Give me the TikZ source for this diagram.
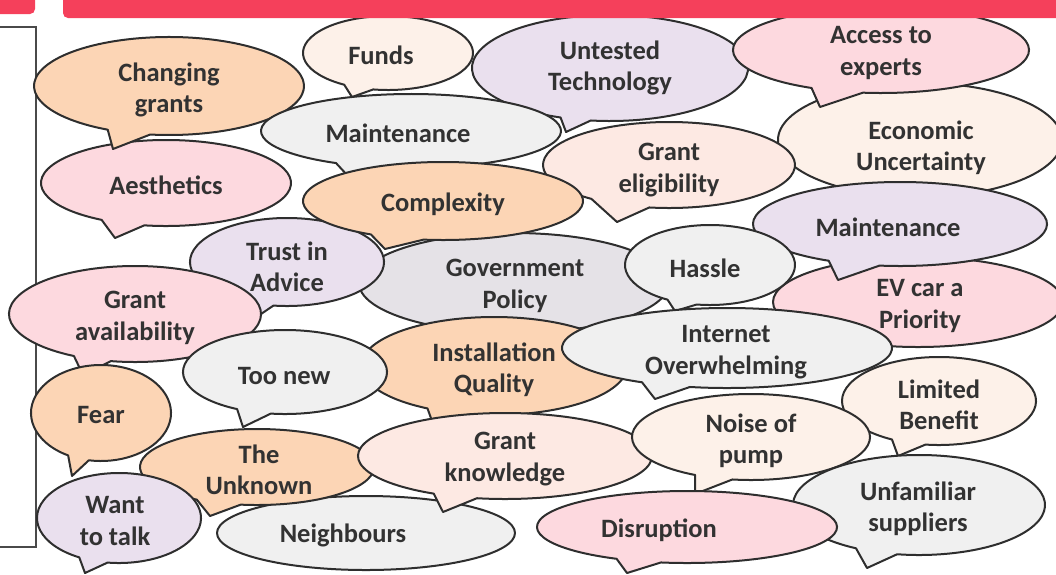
\documentclass[tikz,border=0pt]{standalone}
\usepackage{fontspec}
\setmainfont{Carlito}
\usetikzlibrary{calc}

\definecolor{bubPeach}{HTML}{FCD5B5}
\definecolor{bubPink}{HTML}{FDD9DF}
\definecolor{bubGrey}{HTML}{F0F0F0}
\definecolor{bubLav}{HTML}{EAE0EE}
\definecolor{bubCream}{HTML}{FDF1E9}
\definecolor{bubSalmon}{HTML}{FDE9E3}
\definecolor{bubGov}{HTML}{E5E2E7}
\definecolor{ink}{HTML}{323232}
\definecolor{rim}{HTML}{2E2E2E}
\definecolor{banner}{HTML}{F5405B}
\definecolor{frame}{HTML}{4A4A4A}

\tikzset{
  bubble/.style={draw=rim, line width=2pt, line join=round},
  txt/.style={font=\bfseries\fontsize{26.5}{31.5}\selectfont, text=ink,
              align=center, inner sep=0pt, yshift=-2pt},
}

% speech bubble: #1 fill, #2 centre, #3 x radius, #4 y radius,
% #5/#6 angles bounding the tail base, #7 tail tip
\newcommand\speech[7]{%
  \draw[bubble, fill=#1] ($(#2)+(#6:#3 and #4)$)
    arc[start angle=#6, end angle=#5+360, x radius=#3, y radius=#4]
    -- (#7) -- cycle;}
% plain bubble without a visible tail
\newcommand\plainbubble[4]{%
  \draw[bubble, fill=#1] (#2) ellipse[x radius=#3, y radius=#4];}

\begin{document}
\begin{tikzpicture}[x=1pt, y=-1pt]
\useasboundingbox (0,0) rectangle (1056,574);
\clip (0,0) rectangle (1056,574);

% side frame
\draw[frame, line width=1.3pt] (0,27) -- (36,27) -- (36,547) -- (0,547);

% back layer
\speech{bubCream}{388,53}{85}{37}{100}{121}{352,97}
\node[txt] (funds) at (381,53) {Funds};

\speech{bubLav}{610,68}{138}{53}{98}{111}{566,132}
\node[txt] (untested) at (610,66) {Untested\\Technology};

\plainbubble{bubCream}{920,140}{142}{57}
\node[txt] (economic) at (921,146) {Economic\\Uncertainty};

\speech{bubPink}{881,50}{148}{43}{97}{118}{820,107}
\node[txt] (access) at (881,51) {Access to\\experts};

\speech{bubPink}{166,183}{125}{43}{100}{121}{115,238}
\node[txt] (aesthetics) at (166,183) {Aesthetics};

\speech{bubPeach}{169,86}{135}{49}{98}{117}{113,149}
\node[txt] (changing) at (169,88) {Changing\\grants};

\speech{bubGrey}{411,131}{150}{37}{100}{120}{348,176}
\node[txt] (maintA) at (398,131) {Maintenance};

\speech{bubSalmon}{669,165}{126}{43}{99}{128}{617,222}
\node[txt] (eligibility) at (669,168) {Grant\\eligibility};

\plainbubble{bubGov}{514,283}{155}{50}
\node[txt] (policy) at (515,284) {Government\\Policy};

\speech{bubLav}{287,262}{97}{44}{98}{118}{258,316}
\node[txt] (trust) at (287,265) {Trust in\\Advice};

\speech{bubPeach}{443,201}{140}{39}{98}{121}{385,249}
\node[txt] (complexity) at (443,202) {Complexity};

\speech{bubPink}{135,314}{126}{48}{101}{119}{83,375}
\node[txt] (availability) at (135,316) {Grant\\availability};

\plainbubble{bubPink}{918,302}{145}{45}
\node[txt] (evcar) at (920,304) {EV car a\\Priority};

\speech{bubLav}{900,224}{147}{42}{98}{119}{838,280}
\node[txt] (maintB) at (888,225) {Maintenance};

\speech{bubGrey}{710,265}{85}{40}{99}{120}{675,311}
\node[txt] (hassle) at (705,266) {Hassle};

\speech{bubPeach}{494,366}{133}{49}{100}{120}{432,421}
\node[txt] (installation) at (494,368) {Installation\\Quality};

\speech{bubGrey}{285,372}{102}{42}{98}{118}{243,427}
\node[txt] (toonew) at (284,374) {Too new};

\speech{bubPeach}{101,413}{70}{48}{100}{118}{72,476}
\node[txt] (fear) at (101,413) {Fear};

\plainbubble{bubGrey}{366,533}{149}{37}
\node[txt] (neighbours) at (343,533) {Neighbours};

\speech{bubPeach}{257,467}{117}{38}{98}{121}{210,516}
\node[txt] (unknown) at (259,468) {The\\Unknown};

\speech{bubLav}{119,518}{82}{45}{98}{119}{85,573}
\node[txt] (talk) at (115,519) {Want\\to talk};

\speech{bubSalmon}{505,456}{147}{43}{101}{119}{443,512}
\node[txt] (knowledge) at (505,457) {Grant\\knowledge};

\speech{bubCream}{939,401}{97}{44}{98}{119}{898,456}
\node[txt] (limited) at (939,403) {Limited\\Benefit};

\speech{bubCream}{751,437}{119}{43}{99}{118}{695,494}
\node[txt] (noise) at (751,439) {Noise of\\pump};

\speech{bubGrey}{727,348}{165}{40}{103}{121}{655,399}
\node[txt] (internet) at (726,350) {Internet\\Overwhelming};

\speech{bubGrey}{919,505}{126}{50}{100}{120}{867,568}
\node[txt] (unfamiliar) at (918,507) {Unfamiliar\\suppliers};

\speech{bubPink}{687,527}{150}{36}{100}{118}{627,573}
\node[txt] (disruption) at (659,528) {Disruption};

% banner across the top
\fill[banner, rounded corners=5pt] (-10,-10) rectangle (35,14);
\fill[banner, rounded corners=5pt] (63,-10) rectangle (1070,18);
\end{tikzpicture}
\end{document}
